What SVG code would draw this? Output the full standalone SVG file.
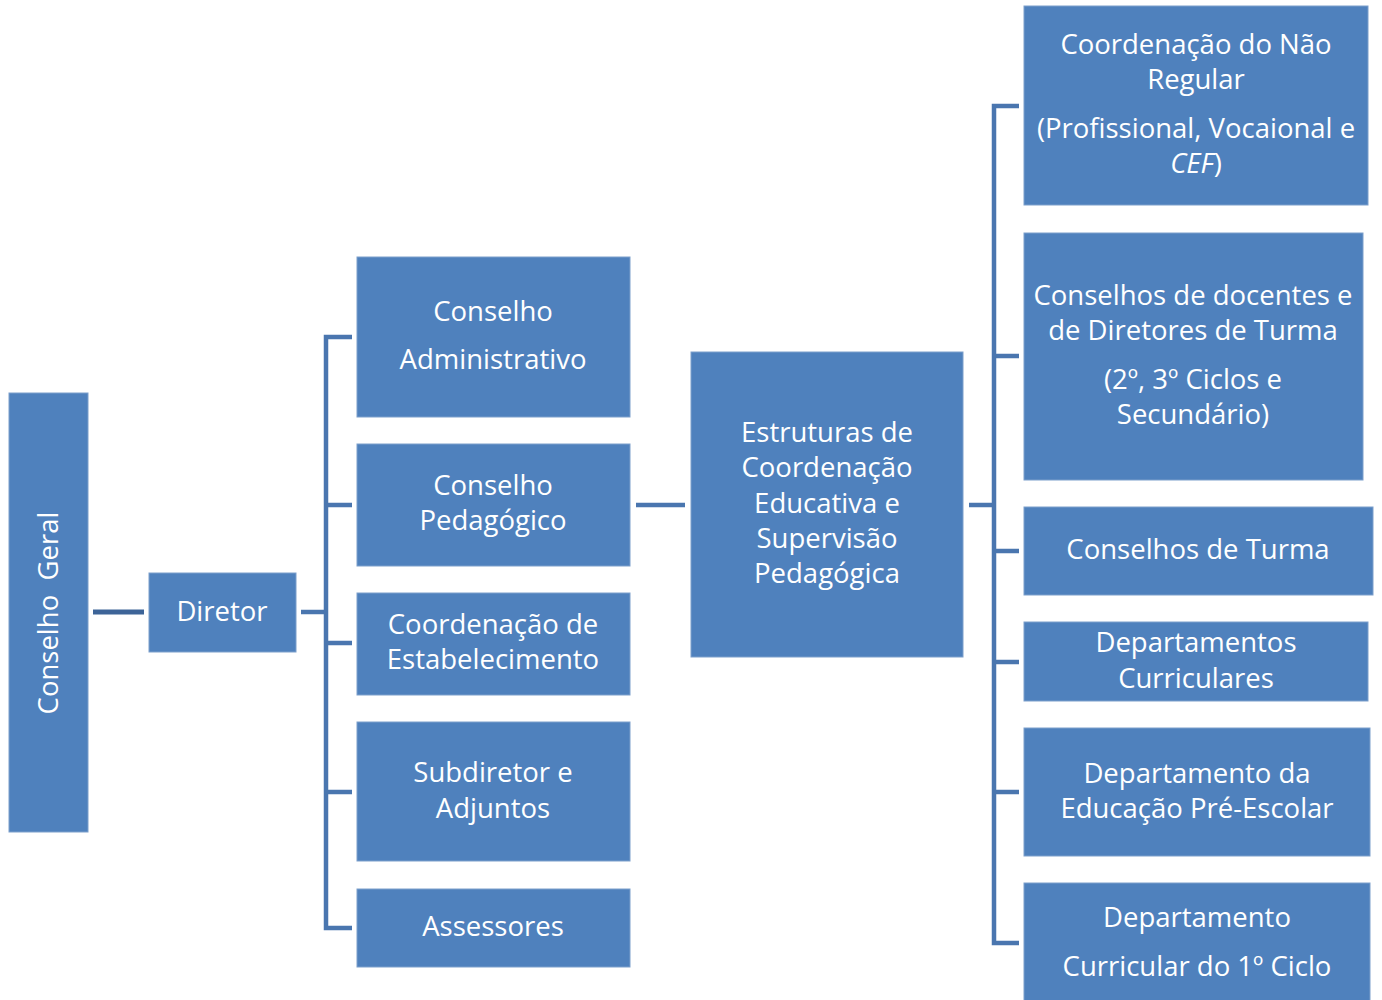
<svg xmlns="http://www.w3.org/2000/svg" width="1382" height="1000" viewBox="0 0 1382 1000">
<style>
.box{fill:#4F81BD;stroke:#7C9FCB;stroke-width:1}
.t{font-family:"Open Sans","Liberation Sans",sans-serif;font-size:27.5px;fill:#FFFFFF;text-anchor:middle}
.c{fill:none;stroke:#4A76AF;stroke-width:4.5}
.cd{fill:none;stroke:#3D6498;stroke-width:5}
</style>
<rect width="1382" height="1000" fill="#FFFFFF"/>
<g id="connectors">
<line class="cd" x1="93" y1="612" x2="144" y2="612"/>
<line class="c" x1="301" y1="612" x2="326" y2="612"/>
<path class="c" d="M352,337 H326 V928 H352 M326,505 H352 M326,643 H352 M326,792 H352"/>
<line class="c" x1="636" y1="505" x2="685" y2="505"/>
<line class="c" x1="969" y1="505" x2="994" y2="505"/>
<path class="c" d="M1019,106 H994 V943 H1019 M994,356 H1019 M994,551 H1019 M994,662 H1019 M994,792 H1019"/>
</g>
<g id="conselho-geral">
<rect class="box" x="9" y="393" width="79" height="439"/>
<text class="t" transform="translate(58,613) rotate(-90)" xml:space="preserve">Conselho  Geral</text>
</g>
<g id="diretor">
<rect class="box" x="149" y="573" width="147" height="79"/>
<text class="t" x="222" y="621">Diretor</text>
</g>
<g id="conselho-administrativo">
<rect class="box" x="357" y="257" width="273" height="160"/>
<text class="t" x="493" y="321">Conselho</text>
<text class="t" x="493" y="369">Administrativo</text>
</g>
<g id="conselho-pedagogico">
<rect class="box" x="357" y="444" width="273" height="122"/>
<text class="t" x="493" y="495">Conselho</text>
<text class="t" x="493" y="530">Pedagógico</text>
</g>
<g id="coordenacao-estabelecimento">
<rect class="box" x="357" y="593" width="273" height="102"/>
<text class="t" x="493" y="634">Coordenação de</text>
<text class="t" x="493" y="669">Estabelecimento</text>
</g>
<g id="subdiretor">
<rect class="box" x="357" y="722" width="273" height="139"/>
<text class="t" x="493" y="782">Subdiretor e</text>
<text class="t" x="493" y="818">Adjuntos</text>
</g>
<g id="assessores">
<rect class="box" x="357" y="889" width="273" height="78"/>
<text class="t" x="493" y="936">Assessores</text>
</g>
<g id="estruturas">
<rect class="box" x="691" y="352" width="272" height="305"/>
<text class="t" x="827" y="442">Estruturas de</text>
<text class="t" x="827" y="477">Coordenação</text>
<text class="t" x="827" y="513">Educativa e</text>
<text class="t" x="827" y="548">Supervisão</text>
<text class="t" x="827" y="583">Pedagógica</text>
</g>
<g id="nao-regular">
<rect class="box" x="1024" y="6" width="344" height="199"/>
<text class="t" x="1196" y="54">Coordenação do Não</text>
<text class="t" x="1196" y="89">Regular</text>
<text class="t" x="1196" y="138">(Profissional, Vocaional e</text>
<text class="t" x="1196" y="173"><tspan font-style="italic">CEF</tspan>)</text>
</g>
<g id="conselhos-docentes">
<rect class="box" x="1024" y="233" width="339" height="247"/>
<text class="t" x="1193" y="305">Conselhos de docentes e</text>
<text class="t" x="1193" y="340">de Diretores de Turma</text>
<text class="t" x="1193" y="389">(2º, 3º Ciclos e</text>
<text class="t" x="1193" y="424">Secundário)</text>
</g>
<g id="conselhos-turma">
<rect class="box" x="1024" y="507" width="349" height="88"/>
<text class="t" x="1198" y="559">Conselhos de Turma</text>
</g>
<g id="departamentos-curriculares">
<rect class="box" x="1024" y="622" width="344" height="79"/>
<text class="t" x="1196" y="652">Departamentos</text>
<text class="t" x="1196" y="688">Curriculares</text>
</g>
<g id="pre-escolar">
<rect class="box" x="1024" y="728" width="346" height="128"/>
<text class="t" x="1197" y="783">Departamento da</text>
<text class="t" x="1197" y="818">Educação Pré-Escolar</text>
</g>
<g id="primeiro-ciclo">
<rect class="box" x="1024" y="883" width="346" height="125"/>
<text class="t" x="1197" y="927">Departamento</text>
<text class="t" x="1197" y="976">Curricular do 1º Ciclo</text>
</g>
</svg>
